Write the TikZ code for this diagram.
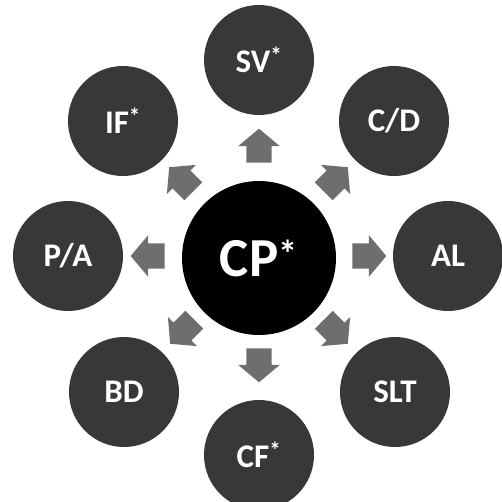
\documentclass[tikz,border=0pt]{standalone}
\usepackage{fontspec}
\setmainfont{Carlito}
\usetikzlibrary{shapes.arrows}
\definecolor{ringgray}{HTML}{383838}
\definecolor{arrowgray}{HTML}{6E6E6E}
\newcommand\mystar{\textsuperscript{*}}
\begin{document}
\begin{tikzpicture}[x=1pt,y=1pt,
  outer/.style={circle, fill=ringgray, minimum size=110pt, inner sep=0pt, text=white,
    font=\fontsize{33}{33}\selectfont\bfseries},
  hub/.style={circle, fill=black, minimum size=154pt, inner sep=0pt, text=white,
    font=\fontsize{55}{55}\selectfont\bfseries},
  blockarrow/.style={single arrow, fill=arrowgray, minimum height=34pt,
    inner xsep=0pt, inner ysep=12.5pt, text height=0pt, text depth=0pt,
    single arrow head extend=8pt, single arrow tip angle=100}
]
\useasboundingbox (-259,-243) rectangle (243,258);
\node[hub] (cp) at (0,0) {CP\mystar};
\node[outer] (sv)  at (0,198)     {SV\mystar};
\node[outer] (cd)  at (135,137)   {C/D};
\node[outer] (al)  at (189,2)     {AL};
\node[outer] (slt) at (136,-134)  {SLT};
\node[outer] (cf)  at (0,-197)    {CF\mystar};
\node[outer] (bd)  at (-135,-134) {BD};
\node[outer] (pa)  at (-191,2)    {P/A};
\node[outer] (if)  at (-136,137)  {IF\mystar};
\node[blockarrow, rotate=90]  (a1) at (0,107)    {};
\node[blockarrow, rotate=45]  (a2) at (73,75)    {};
\node[blockarrow, rotate=0]   (a3) at (105,2)    {};
\node[blockarrow, rotate=-45] (a4) at (73,-70)   {};
\node[blockarrow, rotate=-90] (a5) at (0,-102)   {};
\node[blockarrow, rotate=-135](a6) at (-73,-70)  {};
\node[blockarrow, rotate=180] (a7) at (-106,2)   {};
\node[blockarrow, rotate=135] (a8) at (-74,75)   {};
\end{tikzpicture}
\end{document}
